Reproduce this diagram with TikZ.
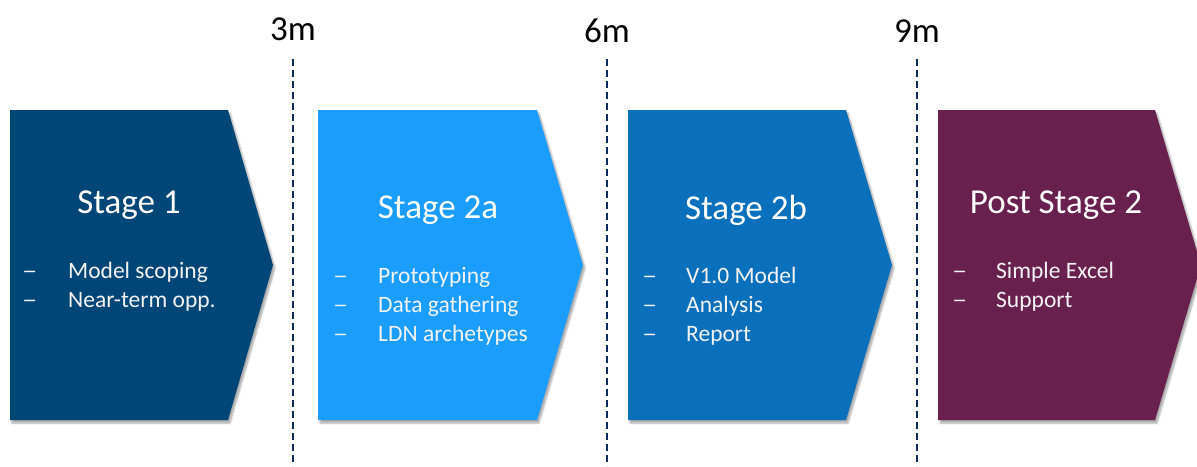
\documentclass[tikz,border=0pt]{standalone}
\usepackage{fontspec}
\setmainfont{Carlito}
\usetikzlibrary{shadows.blur}
\definecolor{cA}{HTML}{004677}
\definecolor{cB}{HTML}{1B9DFF}
\definecolor{cC}{HTML}{0A70BB}
\definecolor{cD}{HTML}{68204E}
\definecolor{navy}{HTML}{0F2A5E}
\tikzset{
  chev/.style={blur shadow={shadow xshift=2pt,shadow yshift=-3pt,shadow blur steps=6,shadow opacity=35}},
  ttl/.style={text=white,font=\fontsize{35}{40}\selectfont,anchor=center,inner sep=0pt},
  itm/.style={text=white!95!black,font=\fontsize{23.5}{26}\selectfont,anchor=base west,inner sep=0pt},
  dsh/.style={text=white!95!black,font=\fontsize{23.5}{26}\selectfont,anchor=base west,inner sep=0pt},
  tmark/.style={text=black,font=\fontsize{35}{40}\selectfont,anchor=center,inner sep=0pt},
  vline/.style={navy,line width=2.8pt,dash pattern=on 7pt off 4pt}
}
\newcommand{\dashtxt}{\scalebox{1.3}[1]{–}}
\begin{document}
\begin{tikzpicture}[x=1pt,y=-1pt]
\useasboundingbox (0,0) rectangle (1197,466);
\clip (0,0) rectangle (1197,466);
% stages
\fill[cA,chev] (10,110) -- (228,110) -- (273,265) -- (228,420) -- (10,420) -- cycle;
\fill[cB,chev] (318,110) -- (537,110) -- (583,265) -- (537,420) -- (318,420) -- cycle;
\fill[cC,chev] (628,110) -- (846,110) -- (892,265) -- (846,420) -- (628,420) -- cycle;
\fill[cD,chev] (938,110) -- (1155,110) -- (1201,265) -- (1155,420) -- (938,420) -- cycle;
% time marks
\node[tmark] (m3) at (293,29) {3m};
\node[tmark] (m6) at (607,31) {6m};
\node[tmark] (m9) at (917,31) {9m};
\coordinate (b3) at (293,466);
\coordinate (b6) at (607,466);
\coordinate (b9) at (917,466);
\draw[vline] (293,59) -- (b3);
\draw[vline] (607,59) -- (b6);
\draw[vline] (917,59) -- (b9);
% Stage 1
\node[ttl] (t1) at (129,205) {Stage 1};
\node[dsh] (d11) at (22,278) {\dashtxt};
\node[itm] (i11) at (68,278) {Model scoping};
\node[dsh] (d12) at (22,307) {\dashtxt};
\node[itm] (i12) at (68,307) {Near-term opp.};
% Stage 2a
\node[ttl] (t2) at (438,210) {Stage 2a};
\node[dsh] (d21) at (333,283) {\dashtxt};
\node[itm] (i21) at (378,283) {Prototyping};
\node[dsh] (d22) at (333,312) {\dashtxt};
\node[itm] (i22) at (378,312) {Data gathering};
\node[dsh] (d23) at (333,341) {\dashtxt};
\node[itm] (i23) at (378,341) {LDN archetypes};
% Stage 2b
\node[ttl] (t3) at (746,210) {Stage 2b};
\node[dsh] (d31) at (642,283) {\dashtxt};
\node[itm] (i31) at (686,283) {V1.0 Model};
\node[dsh] (d32) at (642,312) {\dashtxt};
\node[itm] (i32) at (686,312) {Analysis};
\node[dsh] (d33) at (642,341) {\dashtxt};
\node[itm] (i33) at (686,341) {Report};
% Post Stage 2
\node[ttl] (t4) at (1056,205) {Post Stage 2};
\node[dsh] (d41) at (952,278) {\dashtxt};
\node[itm] (i41) at (996,278) {Simple Excel};
\node[dsh] (d42) at (952,307) {\dashtxt};
\node[itm] (i42) at (996,307) {Support};
\end{tikzpicture}
\end{document}
